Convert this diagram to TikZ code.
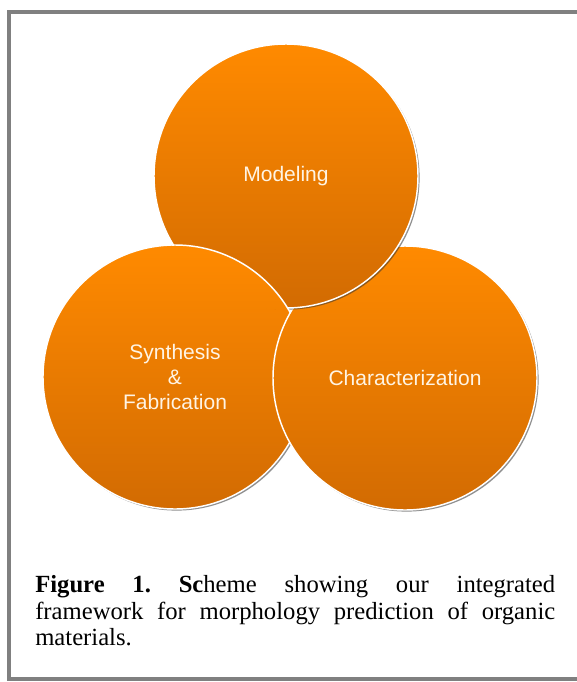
\documentclass[tikz,border=0pt]{standalone}
\usepackage{fontspec}
\setmainfont{Liberation Serif}
\newfontfamily\stagefont{Liberation Sans}
\usetikzlibrary{shadows}

\definecolor{orangetop}{RGB}{255,138,0}
\definecolor{orangebottom}{RGB}{210,107,2}
\definecolor{stagetext}{RGB}{255,244,228}
\definecolor{framegray}{RGB}{128,128,128}

\begin{document}
\begin{tikzpicture}[
x=0.75pt, y=-0.75pt,
stagefill/.style={draw=white, line width=1.1pt, top color=orangetop, bottom color=orangebottom},
stage/.style={circle, stagefill, minimum size=198pt, inner sep=0pt, text=stagetext, align=center,
  font=\stagefont\fontsize{15.75}{18.75}\selectfont,
  drop shadow={shadow xshift=1.2pt, shadow yshift=-1.2pt, fill=black!80, opacity=.55}},
frameline/.style={draw=framegray, line width=2.8pt},
caption/.style={anchor=north west, inner sep=0pt, align=left,
  font=\frenchspacing\fontsize{18.5}{19.7}\selectfont},
]
\useasboundingbox (0,0) rectangle (577,682);
\clip (0,0) rectangle (577,682);
\draw[frameline] (9,12) rectangle (582,679);

% the three stages, each one partly over the next
\node[stage] (synth) at (175,377) {Synthesis\\\&\\Fabrication};
\node[stage] (charac) at (405,378) {Characterization};
\node[stage] (model) at (286,176) {Modeling};
\begin{scope}
  \clip (model.center) circle [radius=100.6pt];
  \path[stagefill] (synth.center) circle [radius=99pt];
\end{scope}

\node[caption] (cap) at (35,575.5) {%
  \makebox[390pt][s]{\textbf{Figure 1. Sc}heme showing our integrated}\\
  \makebox[390pt][s]{framework for morphology prediction of organic}\\
  materials.};
\end{tikzpicture}
\end{document}
